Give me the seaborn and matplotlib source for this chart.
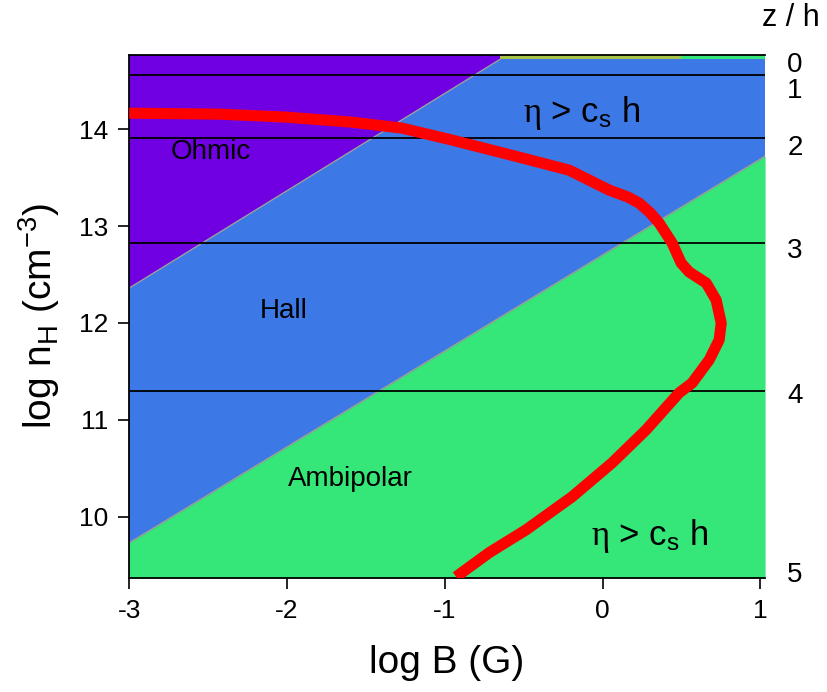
import numpy as np
import pandas as pd
import matplotlib
matplotlib.use("Agg")
import matplotlib.pyplot as plt
import seaborn as sns

# ---------------- data ----------------
# red track: log B (G) vs log nH (cm^-3)
track_logB = [-3.00, -2.43, -2.005, -1.587, -1.27, -0.953, -0.529, -0.212, 0.042, 0.16, 0.232,
              0.30, 0.359, 0.441, 0.498, 0.549, 0.657, 0.720, 0.752, 0.739, 0.676, 0.568,
              0.485, 0.276, 0.061, -0.193, -0.484, -0.719, -0.928]
track_lognH = [14.165, 14.155, 14.124, 14.072, 14.010, 13.887, 13.711, 13.577, 13.371, 13.30, 13.237,
               13.14, 13.031, 12.825, 12.619, 12.526, 12.412, 12.237, 12.000, 11.825, 11.619, 11.381,
               11.278, 10.897, 10.557, 10.206, 9.866, 9.629, 9.381]

# region boundaries
ohmic_hall_B = [-3.00, -0.65]
ohmic_hall_nH = [12.36, 14.72]
hall_ambi_B = [-3.00, 1.03]
hall_ambi_nH = [9.73, 13.72]
top_strip_B = [-0.65, 1.03]
top_strip_nH = [14.72, 14.72]
top_green_B = [0.50, 1.03]

# heights z/h
z_line_nH = [14.557, 13.907, 12.825, 11.299]
z_label_nH = [14.69, 14.42, 13.835, 12.773, 11.278, 9.433]
z_labels = ["0", "1", "2", "3", "4", "5"]

x_ticks = [-3, -2, -1, 0, 1]
y_ticks = [10, 11, 12, 13, 14]
xlim = (-3.0, 1.03)
ylim = (9.37, 14.765)

# colours
c_ohmic = "#7000E2"
c_hall = "#3C78E6"
c_ambi = "#35E678"
c_strip = "#A8C24A"

# ---------------- style ----------------
sns.set_theme(style="ticks")
plt.rcParams["font.family"] = ["Liberation Sans", "DejaVu Sans"]
plt.rcParams["mathtext.fontset"] = "custom"
plt.rcParams["mathtext.rm"] = "Liberation Sans"
plt.rcParams["mathtext.sf"] = "Liberation Serif"
plt.rcParams["mathtext.default"] = "regular"
plt.rcParams["axes.unicode_minus"] = False
plt.rcParams["text.color"] = "black"
plt.rcParams["axes.labelcolor"] = "black"
plt.rcParams["xtick.color"] = "black"
plt.rcParams["ytick.color"] = "black"

fig = plt.figure(figsize=(8.28, 6.92), dpi=100)
ax = fig.add_axes([0.156, 0.165, 0.768, 0.7555])
ax.set_xlim(*xlim)
ax.set_ylim(*ylim)
ax.set_facecolor(c_hall)

# ambipolar region (below boundary)
ax.fill_between(hall_ambi_B, hall_ambi_nH, ylim[0], color=c_ambi, lw=0, zorder=1)
ax.plot(hall_ambi_B, hall_ambi_nH, color="#9aa88a", lw=1.0, zorder=1.5)
# ohmic region (above boundary, to the left)
ohm_x = [ohmic_hall_B[0], ohmic_hall_B[1], top_strip_B[0], xlim[0]]
ohm_y = [ohmic_hall_nH[0], ohmic_hall_nH[1], ylim[1], ylim[1]]
ax.fill(ohm_x, ohm_y, color=c_ohmic, lw=0, zorder=1)
ax.plot(ohmic_hall_B, ohmic_hall_nH, color="#9aa0a0", lw=1.0, zorder=1.5)
# thin strip along the top
ax.fill_between(top_strip_B, top_strip_nH, ylim[1], color=c_strip, lw=0, zorder=1)
ax.fill_between(top_green_B, [14.725, 14.725], ylim[1], color=c_ambi, lw=0, zorder=1.2)

# height lines
for zn in z_line_nH:
    ax.axhline(zn, color="black", lw=1.3, zorder=2)

# track
df = pd.DataFrame({"logB": track_logB, "lognH": track_lognH})
sns.lineplot(data=df, x="logB", y="lognH", sort=False, estimator=None,
             color="#FF0000", lw=8, ax=ax, zorder=3)
ax.lines[-1].set_solid_capstyle("butt")
ax.lines[-1].set_solid_joinstyle("round")

# labels in regions
ax.text(-2.48, 13.76, "Ohmic", fontsize=20, ha="center", va="center", zorder=4)
ax.text(-2.02, 12.12, "Hall", fontsize=20, ha="center", va="center", zorder=4)
ax.text(-1.60, 10.39, "Ambipolar", fontsize=20, ha="center", va="center", zorder=4)
eta_txt = r"$\mathsf{\eta}$ > c$_{s}$ h"
ax.text(-0.13, 14.17, eta_txt, fontsize=25, ha="center", va="center", zorder=4)
ax.text(0.30, 9.80, eta_txt, fontsize=25, ha="center", va="center", zorder=4)

# axes styling
ax.set_xticks(x_ticks)
ax.set_yticks(y_ticks)
ax.set_xticklabels([str(v) for v in x_ticks])
ax.set_yticklabels([str(v) for v in y_ticks])
ax.tick_params(direction="out", length=8, width=1.2, labelsize=19, colors="black", pad=7)
for s in ["left", "bottom", "top"]:
    ax.spines[s].set_color("black")
    ax.spines[s].set_linewidth(1.3)
ax.spines["right"].set_visible(False)
ax.set_xlabel("log B (G)", fontsize=28, labelpad=16)
ax.set_ylabel(r"log n$_{H}$ (cm$^{-3}$)", fontsize=28, labelpad=12)

# right-hand z/h labels
ax2 = ax.twinx()
ax2.set_ylim(*ylim)
ax2.set_yticks(z_label_nH)
ax2.set_yticklabels(z_labels)
ax2.tick_params(axis="y", length=0, labelsize=20, pad=16, colors="black")
for s in ax2.spines.values():
    s.set_visible(False)
fig.text(0.955, 0.974, "z / h", fontsize=22, ha="center", va="center")

fig.savefig("out.png", dpi=100)
